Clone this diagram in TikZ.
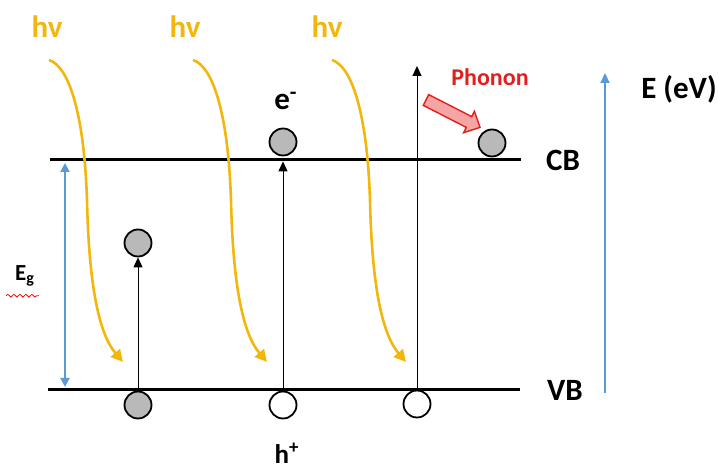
\documentclass[tikz,border=0pt]{standalone}
\usepackage{fontspec}
\setmainfont{Carlito}
\usepackage{xcolor}
\usetikzlibrary{arrows.meta,decorations.pathmorphing}

\definecolor{hvyellow}{RGB}{242,183,12}
\definecolor{axisblue}{RGB}{91,155,213}
\definecolor{phred}{RGB}{226,30,30}
\definecolor{phfill}{RGB}{246,165,165}

\begin{document}
\begin{tikzpicture}[x=0.5pt, y=-0.5pt,
  band/.style={line width=1.5pt},
  elec/.style={circle, draw, line width=0.9pt, fill=gray!55, minimum size=13.5pt, inner sep=0pt},
  hole/.style={elec, fill=white},
  photon/.style={draw=hvyellow, line width=1.3pt, -{Triangle[length=6pt,width=6pt]}},
  excite/.style={line width=0.5pt, -{Triangle[length=5pt,width=4.5pt]}},
  eaxis/.style={draw=axisblue, line width=1pt},
  lbl/.style={font=\fontsize{15.5}{17}\selectfont\bfseries}]
\useasboundingbox (0,0) rectangle (718,469);

% bands
\coordinate (cbL) at (50,160);
\coordinate (cbR) at (521,160);
\coordinate (vbL) at (48,390);
\coordinate (vbR) at (520,390);
\draw[band] (cbL) -- (cbR);
\draw[band] (vbL) -- (vbR);
\node[lbl] (cb) at (563,160) {CB};
\node[lbl] (vb) at (565,390) {VB};

% band gap
\coordinate (egT) at (65,163);
\coordinate (egB) at (65,387);
\draw[eaxis, {Triangle[length=4.5pt,width=4.5pt]}-{Triangle[length=4.5pt,width=4.5pt]}] (egT) -- (egB);
\node[font=\fontsize{11.5}{13}\selectfont\bfseries] (eg) at (25,276) {E\textsubscript{g}};
\draw[red, line width=0.4pt, decorate, decoration={snake, amplitude=0.7pt, segment length=3pt}]
  ([xshift=-1pt,yshift=-1pt]eg.south west) -- ([xshift=-1.5pt,yshift=-1pt]eg.south east);

% photons
\foreach \dx/\lx [count=\i] in {0/47, 144/185, 283/327} {
  \node[lbl, text=hvyellow] (hv\i) at (\lx,27) {hv};
  \begin{scope}[shift={(\dx,0)}]
    \draw[photon] (49,60) .. controls (68,66) and (84,110) .. (87,200)
                          .. controls (89,290) and (100,335) .. (123,362);
  \end{scope}
}

% electrons and holes
\node[elec] (e1) at (138,243) {};
\node[elec] (v1) at (138,405) {};
\draw[excite] (v1) -- (e1);

\node[elec] (e2) at (283,142) {};
\node[hole] (v2) at (283,405) {};
\draw[excite, shorten >=2.5pt] (v2) -- (e2);
\node[lbl] (elab) at (286,101) {e\textsuperscript{-}};
\node[font=\fontsize{13.5}{15}\selectfont\bfseries, inner sep=1pt] (hlab) at (287,453) {h\textsuperscript{+}};

\node[hole] (v3) at (417,404) {};
\coordinate (top3) at (417,66);
\draw[excite] (v3) -- (top3);

% phonon relaxation
\node[elec] (e3) at (492,143) {};
\draw[draw=phred, fill=phfill, line width=0.7pt, line join=miter]
  (423.3,105.4) -- (466.3,127.4) -- (463.6,132.7) -- (480,127.4)
  -- (474.4,111.3) -- (471.7,116.6) -- (428.7,94.6) -- cycle;
\node[font=\fontsize{12}{14}\selectfont\bfseries, text=phred] (phlab) at (490,77) {Phonon};

% energy axis
\coordinate (axB) at (605,393);
\coordinate (axT) at (605,73);
\draw[eaxis, -{Triangle[length=5pt,width=4.5pt]}] (axB) -- (axT);
\node[lbl] (elbl) at (679,89) {E (eV)};
\end{tikzpicture}
\end{document}
